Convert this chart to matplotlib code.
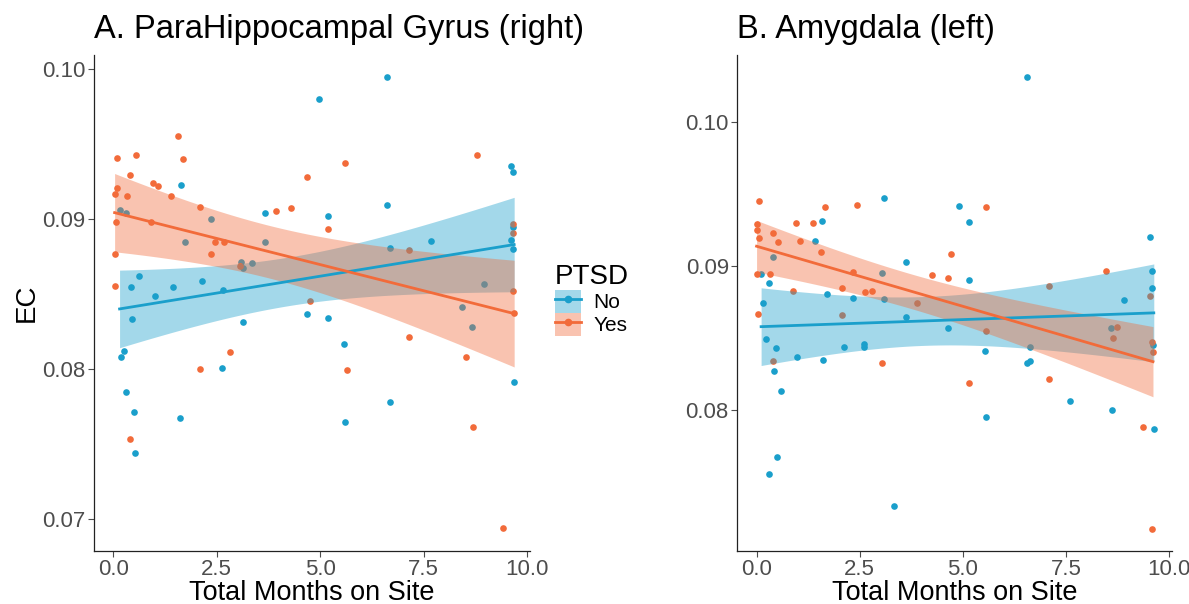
import numpy as np
import matplotlib
matplotlib.use('Agg')
import matplotlib.pyplot as plt
from matplotlib.patches import Patch
from matplotlib.lines import Line2D

plt.rcParams['font.family'] = ['Liberation Sans', 'DejaVu Sans']

blue = '#1A9FCB'
orange = '#F26B3A'

# panel A - ParaHippocampal Gyrus (right)
a_yes_x = [0.08, 0.55, 1.57, 1.68, 0.40, 0.03, 0.08, 0.34, 0.97, 1.08, 1.40, 2.10, 0.06, 0.90,
           0.05, 0.03, 2.46, 2.67, 2.36, 3.07, 3.92, 4.29, 4.68, 5.61, 5.18, 4.76, 7.14, 7.14,
           8.53, 5.65, 2.10, 2.83, 0.40, 8.70, 8.80, 9.41, 9.66, 9.65, 9.66, 9.69]
a_yes_y = [0.09407, 0.0943, 0.09553, 0.09398, 0.09291, 0.09169, 0.09209, 0.09153, 0.09238,
           0.09218, 0.09153, 0.0908, 0.0898, 0.08978, 0.08769, 0.08551, 0.08844, 0.08849,
           0.08764, 0.08687, 0.09051, 0.09073, 0.09278, 0.09371, 0.08931, 0.08456, 0.08796,
           0.08211, 0.0808, 0.07991, 0.07996, 0.08111, 0.07529, 0.07609, 0.09429, 0.06936,
           0.08964, 0.08907, 0.08522, 0.08371]
a_no_x = [6.61, 4.96, 1.64, 3.66, 5.18, 6.61, 9.62, 9.65, 9.65, 9.66, 7.67, 0.61, 0.42, 1.01,
          1.45, 2.14, 2.65, 0.45, 3.13, 4.68, 5.18, 5.57, 0.25, 0.18, 2.63, 0.31, 0.49, 1.61,
          0.52, 5.61, 6.68, 9.69, 0.15, 0.31, 2.37, 1.74, 3.66, 3.08, 3.13, 3.36, 6.68, 8.97,
          8.43, 8.66, 9.61]
a_no_y = [0.09944, 0.09802, 0.09229, 0.09042, 0.09018, 0.09093, 0.09356, 0.09311, 0.08944,
          0.08798, 0.08856, 0.08622, 0.08549, 0.08489, 0.08549, 0.08584, 0.08529, 0.08331,
          0.08311, 0.08367, 0.08336, 0.08167, 0.0812, 0.0808, 0.08009, 0.07844, 0.07711,
          0.07673, 0.0744, 0.07647, 0.07778, 0.07913, 0.0906, 0.0904, 0.09002, 0.08849,
          0.08849, 0.08711, 0.08671, 0.08704, 0.08807, 0.08564, 0.08416, 0.08278, 0.08862]

# panel B - Amygdala (left)
b_yes_x = [0.06, 0.0, 0.0, 0.06, 0.39, 0.53, 0.96, 1.05, 1.38, 1.65, 1.55, 2.44, 5.57, 4.71,
           0.02, 0.33, 0.89, 2.07, 2.34, 2.64, 2.81, 3.89, 4.25, 4.65, 8.48, 8.75, 8.65, 9.55,
           9.59, 9.61, 0.41, 3.03, 5.14, 7.09, 9.37, 9.59, 0.04, 5.57, 7.09, 2.07]
b_yes_y = [0.09452, 0.0929, 0.09251, 0.09195, 0.0923, 0.09167, 0.09297, 0.09169, 0.09297,
           0.09411, 0.09093, 0.09422, 0.09411, 0.09081, 0.08944, 0.08944, 0.08828, 0.08847,
           0.08958, 0.08821, 0.08824, 0.08738, 0.08933, 0.08916, 0.08965, 0.08573, 0.08497,
           0.08789, 0.08469, 0.08399, 0.08339, 0.08323, 0.08188, 0.08213, 0.07877, 0.07169,
           0.08666, 0.0855, 0.08861, 0.08661]
b_no_x = [6.56, 3.09, 4.91, 5.14, 1.58, 1.42, 9.55, 3.62, 5.14, 0.11, 0.29, 0.16, 1.71, 2.34,
          3.09, 9.59, 9.59, 8.90, 3.62, 4.65, 0.23, 0.47, 0.98, 1.61, 2.11, 2.61, 2.61, 5.53,
          6.62, 6.56, 6.62, 0.43, 0.59, 7.61, 8.61, 5.57, 9.63, 0.49, 0.29, 3.33, 0.39, 3.03,
          8.59, 9.61]
b_no_y = [0.10313, 0.09471, 0.09415, 0.09302, 0.09313, 0.09172, 0.092, 0.09023, 0.089,
          0.08942, 0.08882, 0.08742, 0.08807, 0.08777, 0.08768, 0.08961, 0.08845, 0.08763,
          0.08643, 0.08566, 0.0849, 0.08427, 0.08369, 0.08346, 0.08439, 0.08457, 0.08439,
          0.08406, 0.08439, 0.08323, 0.08341, 0.08267, 0.08132, 0.08058, 0.07998, 0.07949,
          0.07865, 0.07671, 0.07552, 0.07332, 0.09063, 0.08951, 0.08566, 0.08452]


def lm_band(x, y):
    # straight line fit with 95% confidence band, like geom_smooth(method='lm')
    x = np.array(x)
    y = np.array(y)
    n = len(x)
    b1, b0 = np.polyfit(x, y, 1)
    xs = np.linspace(x.min(), x.max(), 80)
    fit = b0 + b1 * xs
    resid = y - (b0 + b1 * x)
    s = np.sqrt(np.sum(resid ** 2) / (n - 2))
    se = s * np.sqrt(1 / n + (xs - x.mean()) ** 2 / np.sum((x - x.mean()) ** 2))
    t = 2.015
    return xs, fit, fit - t * se, fit + t * se


def panel(ax, no_x, no_y, yes_x, yes_y, title, ylim, yticks):
    ax.scatter(no_x, no_y, s=23, color=blue, linewidths=0, zorder=2)
    ax.scatter(yes_x, yes_y, s=23, color=orange, linewidths=0, zorder=2)
    for xx, yy, c in [(no_x, no_y, blue), (yes_x, yes_y, orange)]:
        xs, fit, lo, hi = lm_band(xx, yy)
        ax.fill_between(xs, lo, hi, color=c, alpha=0.4, linewidth=0, zorder=3)
        ax.plot(xs, fit, color=c, lw=2.0, zorder=4)
    ax.set_xlim(-0.47, 10.08)
    ax.set_ylim(ylim)
    ax.set_xticks([0, 2.5, 5, 7.5, 10])
    ax.set_xticklabels(['0.0', '2.5', '5.0', '7.5', '10.0'])
    ax.set_yticks(yticks)
    ax.set_yticklabels(['%.2f' % v for v in yticks])
    ax.set_xlabel('Total Months on Site', fontsize=19.5, labelpad=0)
    ax.set_title(title, fontsize=23.5, loc='left', x=0, pad=12)
    for sp in ['top', 'right']:
        ax.spines[sp].set_visible(False)
    for sp in ['left', 'bottom']:
        ax.spines[sp].set_linewidth(0.9)
        ax.spines[sp].set_color('#222222')
    ax.tick_params(labelsize=16, colors='#4D4D4D', length=4, width=0.8, pad=2)


fig = plt.figure(figsize=(11.89, 6.04), dpi=100)
ax1 = fig.add_axes([0.079, 0.088, 0.367, 0.821])
ax2 = fig.add_axes([0.620, 0.088, 0.366, 0.821])

panel(ax1, a_no_x, a_no_y, a_yes_x, a_yes_y, 'A. ParaHippocampal Gyrus (right)',
      (0.06786, 0.10094), [0.07, 0.08, 0.09, 0.10])
ax1.set_ylabel('EC', fontsize=20, labelpad=2)
panel(ax2, b_no_x, b_no_y, b_yes_x, b_yes_y, 'B. Amygdala (left)',
      (0.07019, 0.10465), [0.08, 0.09, 0.10])

handles = [(Patch(facecolor=blue, alpha=0.4, lw=0),
            Line2D([], [], color=blue, lw=2, marker='o', markersize=4.5)),
           (Patch(facecolor=orange, alpha=0.4, lw=0),
            Line2D([], [], color=orange, lw=2, marker='o', markersize=4.5))]
leg = fig.legend(handles, ['No', 'Yes'], title='PTSD', loc='upper left',
                 bbox_to_anchor=(0.458, 0.58), frameon=False, fontsize=15,
                 title_fontsize=20, handlelength=1.25, handleheight=1.3,
                 handletextpad=0.6, labelspacing=0.0, borderpad=0)
leg._legend_box.align = 'left'

fig.savefig('out.png', dpi=100)
